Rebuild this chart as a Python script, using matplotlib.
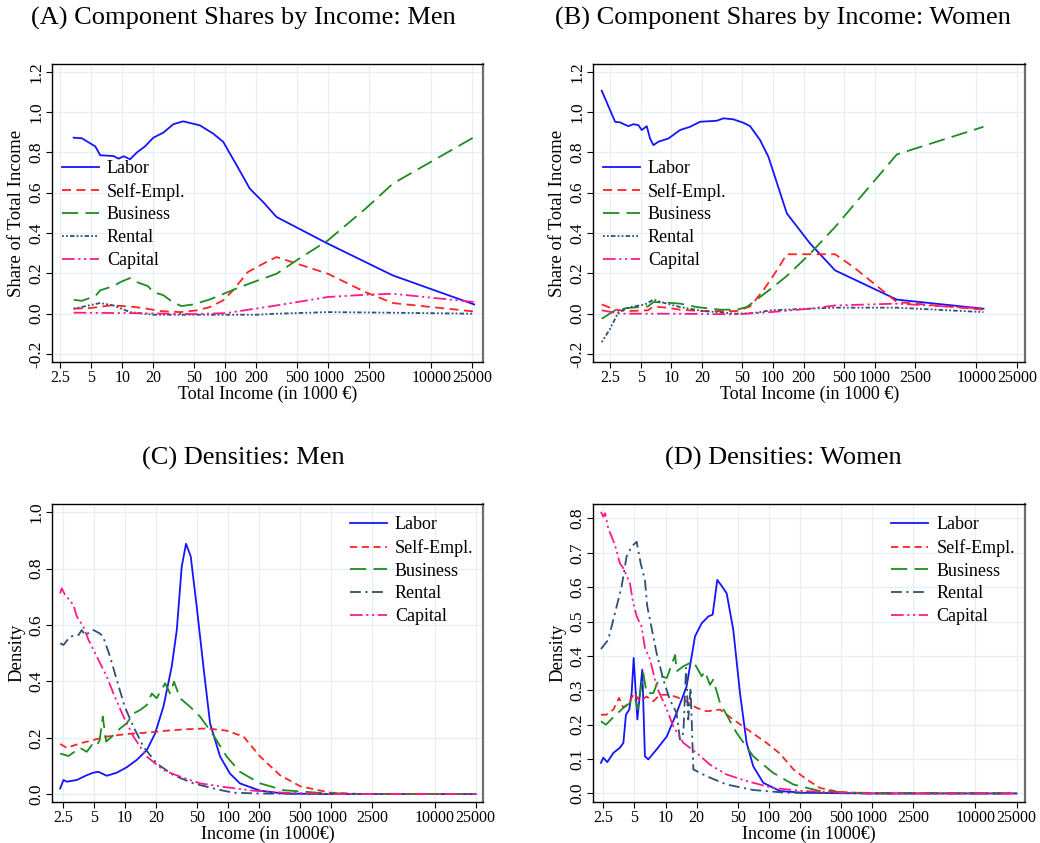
import matplotlib
matplotlib.use("Agg")
import matplotlib.pyplot as plt

plt.rcParams["font.family"] = ["Liberation Serif", "DejaVu Serif"]

# ---------------------------
# DATA
# ---------------------------
x_ticks = [2.5, 5, 10, 20, 50, 100, 200, 500, 1000, 2500, 10000, 25000]
x_tick_labels = ["2.5", "5", "10", "20", "50", "100", "200", "500", "1000", "2500", "10000", "25000"]
series_names = ["Labor", "Self-Empl.", "Business", "Rental", "Capital"]

# (A) shares, men
men_share_labor_x = [3.37, 4.05, 5.46, 6.1, 8.2, 9.2, 10.3, 11.9, 13.8, 16.6, 20, 25, 31.3, 39,
                     56.8, 76.4, 95.5, 129, 173, 233, 314, 993, 4230, 26100]
men_share_labor_y = [0.873, 0.87, 0.83, 0.786, 0.782, 0.769, 0.781, 0.766, 0.799, 0.83, 0.873, 0.898,
                     0.94, 0.954, 0.934, 0.893, 0.852, 0.736, 0.62, 0.554, 0.48, 0.347, 0.19, 0.046]
men_share_self_x = [3.37, 4.9, 7.7, 11.9, 16, 23.6, 36.5, 52, 71, 95, 119, 165, 233, 314, 993, 2300, 4230, 26100]
men_share_self_y = [0.025, 0.028, 0.041, 0.036, 0.028, 0.013, 0.008, 0.016, 0.033, 0.066, 0.116, 0.206,
                    0.248, 0.281, 0.198, 0.107, 0.053, 0.011]
men_share_bus_x = [3.37, 4.05, 5.46, 6.1, 8.2, 9.6, 11.9, 13.8, 17.7, 20, 25, 31.3, 37.5, 49, 71, 102,
                   139, 200, 314, 493, 993, 2300, 4230, 26100]
men_share_bus_y = [0.069, 0.064, 0.087, 0.116, 0.137, 0.157, 0.177, 0.157, 0.137, 0.107, 0.092, 0.055,
                   0.038, 0.046, 0.071, 0.104, 0.132, 0.162, 0.198, 0.265, 0.364, 0.521, 0.645, 0.876]
men_share_rent_x = [3.37, 6.1, 8.2, 11.9, 20, 49, 200, 314, 993, 4230, 26100]
men_share_rent_y = [0.025, 0.053, 0.041, 0.008, -0.005, -0.005, -0.005, 0.0, 0.008, 0.005, 0.0]
men_share_cap_x = [3.37, 11.9, 49, 102, 314, 993, 2300, 4230, 26100]
men_share_cap_y = [0.005, 0.003, -0.002, 0.003, 0.041, 0.083, 0.094, 0.099, 0.058]

# (B) shares, women
wom_share_labor_x = [2.07, 2.8, 3.13, 3.78, 4.25, 4.75, 5.12, 5.74, 6.18, 6.67, 7.46, 9.37, 12.2, 15.3,
                     19.2, 28, 32.6, 40.8, 51.2, 59.6, 74.7, 90.2, 137, 232, 408, 1652, 11750]
wom_share_labor_y = [1.106, 0.952, 0.949, 0.93, 0.94, 0.935, 0.911, 0.93, 0.869, 0.836, 0.853, 0.869,
                     0.911, 0.927, 0.952, 0.957, 0.969, 0.964, 0.947, 0.93, 0.861, 0.778, 0.497, 0.348,
                     0.215, 0.07, 0.025]
wom_share_self_x = [2.07, 2.8, 3.65, 5.9, 6.67, 9.0, 12.2, 19.2, 44, 59.6, 80.5, 109, 137, 408, 617, 1652, 11750]
wom_share_self_y = [0.046, 0.02, 0.013, 0.017, 0.036, 0.03, 0.02, 0.013, 0.013, 0.036, 0.116, 0.215,
                    0.295, 0.295, 0.232, 0.058, 0.02]
wom_share_bus_x = [2.07, 2.8, 3.65, 5.9, 6.67, 9.0, 12.2, 17.8, 30.2, 44, 55.2, 74.7, 95.6, 139, 232,
                   408, 1652, 11750]
wom_share_bus_y = [-0.025, 0.017, 0.028, 0.036, 0.058, 0.055, 0.05, 0.033, 0.02, 0.02, 0.033, 0.083,
                   0.124, 0.19, 0.298, 0.43, 0.79, 0.927]
wom_share_rent_x = [2.07, 2.5, 3.02, 3.94, 5.52, 6.67, 9.0, 12.2, 20.7, 44, 64.3, 95.6, 232, 408, 1652, 11750]
wom_share_rent_y = [-0.141, -0.075, 0.008, 0.033, 0.046, 0.07, 0.05, 0.033, 0.013, 0.0, 0.003, 0.017,
                    0.025, 0.03, 0.03, 0.008]
wom_share_cap_x = [2.07, 3.13, 9.7, 44, 95.6, 232, 408, 1652, 11750]
wom_share_cap_y = [0.017, 0.0, 0.0, -0.003, 0.008, 0.025, 0.041, 0.05, 0.025]

# (C) densities, men
men_dens_labor_x = [2.36, 2.54, 2.73, 3.42, 4.27, 4.95, 5.54, 6.67, 8.34, 10.4, 13.0, 16.3, 19.6, 23.6,
                    28.4, 31.8, 35.5, 39.1, 43.4, 49.6, 57.6, 66.8, 83.6, 104, 130, 204, 343, 1000, 25000]
men_dens_labor_y = [0.02, 0.05, 0.044, 0.05, 0.067, 0.076, 0.079, 0.065, 0.076, 0.095, 0.121, 0.156,
                    0.215, 0.31, 0.452, 0.582, 0.807, 0.888, 0.843, 0.665, 0.452, 0.251, 0.133, 0.073,
                    0.038, 0.012, 0.002, 0.0, 0.0]
men_dens_self_x = [2.36, 2.73, 3.68, 4.95, 6.67, 10.4, 17.5, 25.4, 39.7, 62, 96.8, 141, 204, 318, 498,
                   971, 2000, 25000]
men_dens_self_y = [0.178, 0.164, 0.18, 0.192, 0.204, 0.213, 0.219, 0.225, 0.23, 0.233, 0.225, 0.204,
                   0.133, 0.067, 0.028, 0.005, 0.0, 0.0]
men_dens_bus_x = [2.36, 2.84, 3.68, 4.27, 4.78, 5.3, 5.7, 6.1, 6.58, 7.74, 8.99, 10.4, 12.1, 14.0, 16.3,
                  18.2, 20.3, 24.5, 27.4, 29.9, 34.2, 42.7, 53.4, 72, 96.8, 130, 204, 343, 721, 2000, 25000]
men_dens_bus_y = [0.144, 0.135, 0.164, 0.15, 0.174, 0.168, 0.192, 0.275, 0.186, 0.209, 0.233, 0.251,
                  0.286, 0.298, 0.316, 0.357, 0.34, 0.393, 0.357, 0.399, 0.34, 0.31, 0.275, 0.209,
                  0.133, 0.079, 0.038, 0.014, 0.005, 0.0, 0.0]
men_dens_rent_x = [2.36, 2.54, 2.95, 3.55, 3.82, 4.11, 4.95, 5.7, 6.14, 7.18, 8.34, 9.96, 12.1, 15.1,
                   20.3, 29.5, 46.1, 77.6, 112, 204, 1000, 25000]
men_dens_rent_y = [0.535, 0.529, 0.559, 0.564, 0.582, 0.564, 0.582, 0.57, 0.559, 0.488, 0.405, 0.31,
                   0.239, 0.168, 0.109, 0.067, 0.038, 0.017, 0.005, 0.002, 0.0, 0.0]
men_dens_cap_x = [2.36, 2.44, 2.63, 3.17, 3.42, 3.96, 4.44, 5.34, 6.67, 7.74, 9.68, 12.1, 16.3, 23.6,
                  34.2, 53.4, 96.8, 176, 343, 1000, 25000]
men_dens_cap_y = [0.712, 0.73, 0.707, 0.671, 0.63, 0.594, 0.547, 0.488, 0.417, 0.357, 0.275, 0.204,
                  0.133, 0.085, 0.062, 0.038, 0.024, 0.012, 0.005, 0.0, 0.0]

# (D) densities, women
wom_dens_labor_x = [2.37, 2.5, 2.73, 3.13, 3.62, 3.91, 4.14, 4.46, 4.7, 4.92, 5.34, 5.66, 5.96, 6.32,
                    6.81, 8.2, 10.3, 12.8, 16.0, 19.3, 22.4, 26, 28.6, 31.7, 34.9, 39.1, 45.3, 52.6,
                    61, 70.7, 88.4, 128, 215, 1000, 25000]
wom_dens_labor_y = [0.089, 0.104, 0.091, 0.118, 0.133, 0.147, 0.229, 0.244, 0.292, 0.394, 0.215, 0.292,
                    0.36, 0.108, 0.099, 0.128, 0.166, 0.234, 0.311, 0.457, 0.495, 0.515, 0.52, 0.621,
                    0.604, 0.582, 0.476, 0.292, 0.147, 0.079, 0.031, 0.007, 0.002, 0.0, 0.0]
wom_dens_self_x = [2.37, 2.68, 3.13, 3.55, 3.91, 4.53, 4.95, 5.66, 6.56, 7.62, 8.84, 11.0, 14.9, 20, 25,
                   33.7, 45.3, 65.6, 95.2, 128, 173, 232, 313, 488, 953, 25000]
wom_dens_self_y = [0.229, 0.229, 0.244, 0.278, 0.249, 0.268, 0.292, 0.268, 0.282, 0.268, 0.287, 0.287,
                   0.273, 0.249, 0.239, 0.244, 0.215, 0.181, 0.147, 0.116, 0.07, 0.041, 0.016, 0.004,
                   0.0, 0.0]
wom_dens_bus_x = [2.37, 2.65, 3.13, 3.91, 4.53, 5.07, 5.37, 6.1, 6.56, 7.62, 8.84, 10.3, 12.4, 12.8, 14.9,
                  18.6, 22.4, 24.1, 26.9, 29, 33.7, 48.8, 70.7, 110, 173, 313, 656, 25000]
wom_dens_bus_y = [0.21, 0.2, 0.222, 0.249, 0.263, 0.278, 0.244, 0.35, 0.292, 0.292, 0.341, 0.336, 0.403,
                  0.355, 0.37, 0.384, 0.341, 0.355, 0.316, 0.331, 0.263, 0.176, 0.108, 0.06, 0.026,
                  0.007, 0.002, 0.0]
wom_dens_rent_x = [2.37, 2.79, 3.24, 3.76, 4.2, 4.7, 5.26, 5.75, 6.32, 6.66, 7.34, 8.2, 9.53, 11.0, 12.8,
                   13.8, 14.9, 15.8, 16.6, 17.5, 18.6, 25, 39.1, 70.7, 148, 1000, 25000]
wom_dens_rent_y = [0.42, 0.447, 0.524, 0.602, 0.689, 0.718, 0.732, 0.669, 0.621, 0.544, 0.481, 0.408,
                   0.331, 0.273, 0.234, 0.157, 0.176, 0.365, 0.215, 0.307, 0.07, 0.05, 0.026, 0.01,
                   0.002, 0.0, 0.0]
wom_dens_cap_x = [2.37, 2.5, 2.6, 2.79, 3.24, 3.62, 3.91, 4.53, 4.84, 5.26, 5.86, 6.32, 7.1, 8.2, 10.3,
                  11.9, 14.9, 20, 26.9, 39.1, 61, 110, 215, 1000, 25000]
wom_dens_cap_y = [0.819, 0.805, 0.815, 0.771, 0.723, 0.669, 0.655, 0.611, 0.558, 0.515, 0.486, 0.423,
                  0.389, 0.311, 0.244, 0.195, 0.147, 0.118, 0.084, 0.055, 0.036, 0.016, 0.007, 0.0, 0.0]

# ---------------------------
# STYLES
# ---------------------------
COLORS = ["#1414ff", "#ff2424", "#1e8c1e", "#2f4f74", "#ff1a8c"]
SHARE_STYLES = ["-", (0, (5, 3)), (0, (9, 4)), (0, (1, 1.2, 1, 1.2, 2.5, 1.2)), (0, (7, 2, 1.2, 2, 1.2, 2))]
DENS_STYLES = ["-", (0, (4, 2.5)), (0, (9, 4)), (0, (6, 2.5, 1.2, 2.5)), (0, (7, 2, 1.2, 2, 1.2, 2))]
GRID = "#e6eff1"

W, H = 1040, 843
fig = plt.figure(figsize=(W / 100, H / 100), dpi=100)


def make_axes(left, right, top, bottom):
    return fig.add_axes([left / W, 1 - bottom / H, (right - left) / W, (bottom - top) / H])


def style_axes(ax, xlim, ylim, yticks, xlabel, ylabel):
    ax.set_xscale("log")
    ax.set_xlim(*xlim)
    ax.set_ylim(*ylim)
    ax.set_xticks(x_ticks)
    ax.set_xticklabels(x_tick_labels)
    ax.minorticks_off()
    ax.set_yticks(yticks)
    ax.set_yticklabels([f"{v:.1f}" for v in yticks])
    ax.tick_params(axis="x", labelsize=11.5, length=4, width=0.8, direction="out", pad=2)
    ax.tick_params(axis="y", labelsize=12.5, length=4, width=0.8, direction="out", pad=2)
    for lab in ax.get_yticklabels():
        lab.set_rotation(90)
        lab.set_va("center")
    ax.grid(True, color=GRID, lw=0.9)
    ax.set_axisbelow(True)
    for s in ["left", "top", "bottom"]:
        ax.spines[s].set_linewidth(1.0)
    ax.spines["right"].set_color("#6e6e6e")
    ax.spines["right"].set_linewidth(1.6)
    ax.set_xlabel(xlabel, fontsize=13, labelpad=0)
    ax.set_ylabel(ylabel, fontsize=13.5, labelpad=2)


def draw(ax, xs, ys, styles, legend_anchor):
    for x, y, c, ls, name in zip(xs, ys, COLORS, styles, series_names):
        ax.plot(x, y, color=c, ls=ls, lw=1.3, label=name)
    ax.legend(loc="upper left", bbox_to_anchor=legend_anchor, frameon=False, fontsize=13,
              handlelength=2.05, handletextpad=0.45, labelspacing=0.32, borderpad=0, borderaxespad=0)


# ---------------------------
# PANELS
# ---------------------------
axA = make_axes(52.3, 483.3, 64.3, 361.7)
draw(axA,
     [men_share_labor_x, men_share_self_x, men_share_bus_x, men_share_rent_x, men_share_cap_x],
     [men_share_labor_y, men_share_self_y, men_share_bus_y, men_share_rent_y, men_share_cap_y],
     SHARE_STYLES, (0.022, 0.678))
style_axes(axA, (2.09, 32000), (-0.238, 1.237), [-0.2, 0.0, 0.2, 0.4, 0.6, 0.8, 1.0, 1.2],
           "Total Income (in 1000 €)", "Share of Total Income")

axB = make_axes(593.3, 1025, 64.3, 361.7)
draw(axB,
     [wom_share_labor_x, wom_share_self_x, wom_share_bus_x, wom_share_rent_x, wom_share_cap_x],
     [wom_share_labor_y, wom_share_self_y, wom_share_bus_y, wom_share_rent_y, wom_share_cap_y],
     SHARE_STYLES, (0.022, 0.678))
style_axes(axB, (1.71, 30100), (-0.238, 1.237), [-0.2, 0.0, 0.2, 0.4, 0.6, 0.8, 1.0, 1.2],
           "Total Income (in 1000 €)", "Share of Total Income")

axC = make_axes(52.3, 483.3, 504.3, 801.7)
draw(axC,
     [men_dens_labor_x, men_dens_self_x, men_dens_bus_x, men_dens_rent_x, men_dens_cap_x],
     [men_dens_labor_y, men_dens_self_y, men_dens_bus_y, men_dens_rent_y, men_dens_cap_y],
     DENS_STYLES, (0.69, 0.96))
style_axes(axC, (1.98, 29600), (-0.027, 1.028), [0.0, 0.2, 0.4, 0.6, 0.8, 1.0],
           "Income (in 1000€)", "Density")

axD = make_axes(593.3, 1025, 504.3, 801.7)
draw(axD,
     [wom_dens_labor_x, wom_dens_self_x, wom_dens_bus_x, wom_dens_rent_x, wom_dens_cap_x],
     [wom_dens_labor_y, wom_dens_self_y, wom_dens_bus_y, wom_dens_rent_y, wom_dens_cap_y],
     DENS_STYLES, (0.69, 0.96))
style_axes(axD, (2.0, 30200), (-0.024, 0.841), [0.0, 0.1, 0.2, 0.3, 0.4, 0.5, 0.6, 0.7, 0.8],
           "Income (in 1000€)", "Density")

# panel titles
title_kw = dict(fontsize=19, ha="center", va="center")
fig.text(243 / W, 1 - 18 / H, "(A) Component Shares by Income: Men", **title_kw)
fig.text(783 / W, 1 - 18 / H, "(B) Component Shares by Income: Women", **title_kw)
fig.text(243 / W, 1 - 458 / H, "(C) Densities: Men", **title_kw)
fig.text(783 / W, 1 - 458 / H, "(D) Densities: Women", **title_kw)

fig.savefig("out.png", dpi=100)
